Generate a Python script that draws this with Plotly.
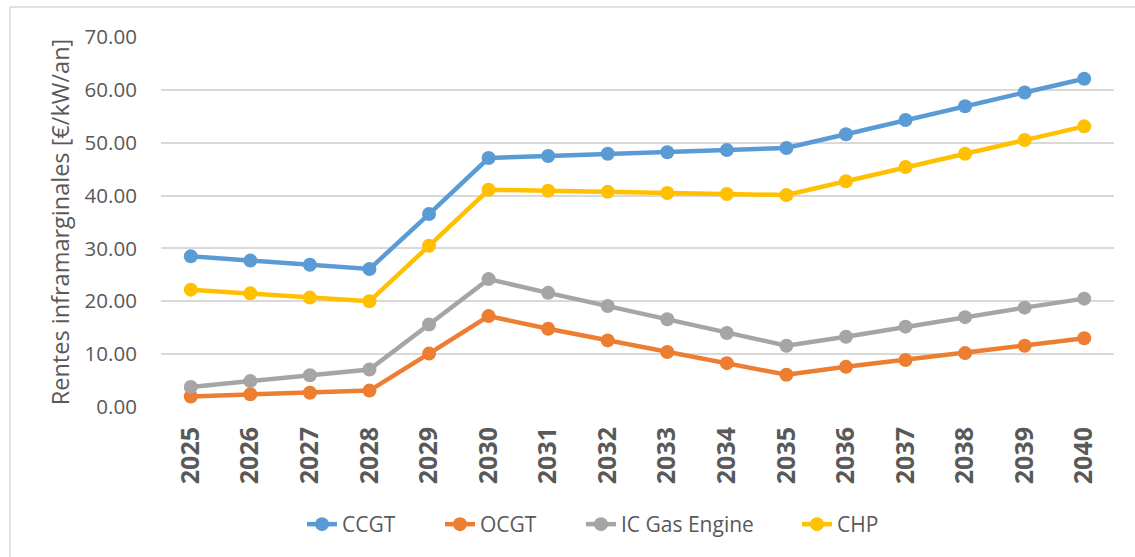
import plotly.graph_objects as go

years = [str(y) for y in range(2025, 2041)]
ccgt = [28.5, 27.7, 26.9, 26.1, 36.5, 47.1, 47.5, 47.9, 48.2, 48.6, 49.0, 51.6, 54.3, 56.9, 59.5, 62.1]
ocgt = [2.0, 2.4, 2.7, 3.1, 10.1, 17.2, 14.8, 12.6, 10.4, 8.3, 6.1, 7.6, 8.9, 10.2, 11.6, 13.0]
ic_gas = [3.8, 4.9, 6.0, 7.1, 15.6, 24.2, 21.6, 19.1, 16.6, 14.0, 11.6, 13.3, 15.2, 17.0, 18.8, 20.5]
chp = [22.2, 21.5, 20.7, 20.0, 30.5, 41.1, 40.9, 40.7, 40.5, 40.3, 40.1, 42.7, 45.4, 47.9, 50.5, 53.1]

names = ["CCGT", "OCGT", "IC Gas Engine", "CHP"]
series = [ccgt, ocgt, ic_gas, chp]
colors = ["#5B9BD5", "#ED7D31", "#A5A5A5", "#FFC000"]
legend_text_x = [342, 480, 621, 837]  # where each legend label starts (px)

FONT = "Open Sans"
TXT = "#595959"

W, H = 1135, 557
L, R, T, B = 161, 21, 37, 150
pw = W - L - R
ph = H - T - B

legend_ids = ["legend", "legend2", "legend3", "legend4"]

fig = go.Figure()
for n, s, c, lid in zip(names, series, colors, legend_ids):
    fig.add_trace(go.Scatter(
        x=years, y=s, name=n, mode="lines+markers",
        line=dict(color=c, width=4.5),
        marker=dict(color=c, size=14),
        legend=lid,
    ))

legend_y = (H - B - 524.5) / ph
layout_legends = {}
for lid, tx in zip(legend_ids, legend_text_x):
    layout_legends[lid] = dict(
        orientation="h", x=(tx - 40 - L) / pw, xanchor="left",
        y=legend_y, yanchor="middle",
        font=dict(size=21, color=TXT, family=FONT),
        bgcolor="rgba(0,0,0,0)",
    )

fig.update_layout(
    width=W, height=H,
    margin=dict(l=L, r=R, t=T, b=B),
    paper_bgcolor="white", plot_bgcolor="white",
    font=dict(family=FONT, color=TXT, size=20),
    showlegend=True,
    xaxis=dict(
        type="category", tickangle=-90, showgrid=False, zeroline=False,
        range=[-0.5, len(years) - 0.5],
        tickfont=dict(size=25, color=TXT, family=FONT, weight="bold"),
        ticks="outside", ticklen=9, tickcolor="rgba(0,0,0,0)",
        showline=False,
    ),
    yaxis=dict(
        range=[0, 70], dtick=10, tickformat=".2f",
        showgrid=True, gridcolor="#D9D9D9", gridwidth=1.5,
        zeroline=False, showline=False,
        ticks="outside", ticklen=19, tickcolor="rgba(0,0,0,0)",
        tickfont=dict(size=20.5, color=TXT),
        title=dict(text="Rentes inframarginales [€/kW/an]", font=dict(size=23.5, color=TXT), standoff=8),
    ),
    **layout_legends,
)

# chart border (left and top edges visible in the frame)
left = (10 - L) / pw
top = (H - B - 7) / ph
fig.add_shape(type="line", xref="paper", yref="paper", x0=left, x1=left, y0=top, y1=-2,
              line=dict(color="#D9D9D9", width=1.5))
fig.add_shape(type="line", xref="paper", yref="paper", x0=left, x1=1.5, y0=top, y1=top,
              line=dict(color="#D9D9D9", width=1.5))

fig.write_html("out.html", config={"displayModeBar": False},
               post_script="document.body.style.margin='0';document.body.style.overflow='hidden';")
